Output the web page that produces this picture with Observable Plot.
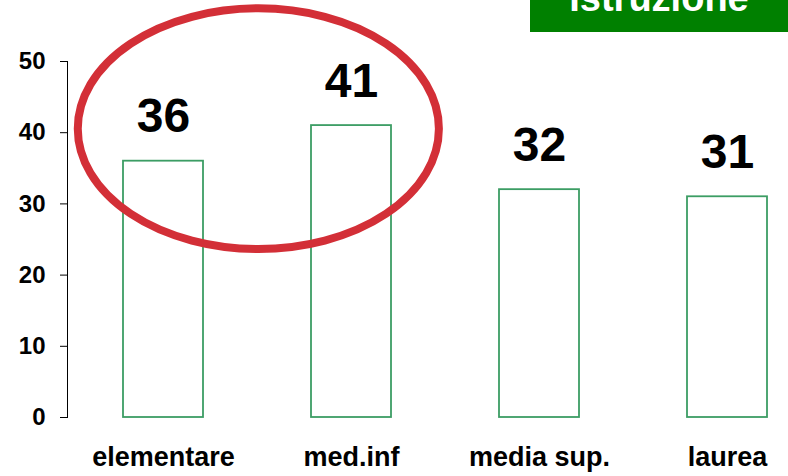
<!DOCTYPE html>
<html>
<head>
<meta charset="utf-8">
<script src="https://cdn.jsdelivr.net/npm/d3@7"></script>
<script src="https://cdn.jsdelivr.net/npm/@observablehq/plot@0.6"></script>
<style>
  html, body { margin: 0; padding: 0; background: #fff; }
  #wrap { position: relative; width: 788px; height: 476px; overflow: hidden; font-family: "Liberation Sans", Arial, sans-serif; }
  #badge { position: absolute; left: 530px; top: 0; width: 258px; height: 32px; background: #008000; overflow: hidden; }
  #badge span { position: absolute; left: 0; right: 0; bottom: 15px; text-align: center; line-height: 1; font-size: 38px; font-weight: bold; color: #fff; }
  g[aria-label^="y-axis"] text { font-size: 24px; font-weight: bold; fill: #000; }
  g[aria-label^="x-axis"] text { font-size: 27px; font-weight: bold; fill: #000; }
</style>
</head>
<body>
<div id="wrap">
  <div id="chart"></div>
  <div id="badge"><span>Istruzione</span></div>
</div>
<script>
const categories = ["elementare", "med.inf", "media sup.", "laurea"];
const values = [36, 41, 32, 31];
const yTicks = [0, 10, 20, 30, 40, 50];

const data = categories.map((c, i) => ({cat: c, value: values[i]}));

const xRange = [122, 768];
const xPadInner = 0.576;

const plot = Plot.plot({
  width: 788,
  height: 476,
  marginLeft: 67,
  marginTop: 61,
  marginBottom: 59,
  marginRight: 20,
  style: {fontFamily: "'Liberation Sans', Arial, sans-serif", fontWeight: "bold", color: "#000", background: "#fff", overflow: "visible"},
  x: {domain: categories, range: xRange, paddingInner: xPadInner, paddingOuter: 0, label: null, tickSize: 0, tickPadding: 29},
  y: {domain: [0, 50], ticks: yTicks, tickSize: 7, tickPadding: 15, line: true, label: null},
  marks: [
    Plot.barY(data, {x: "cat", y: "value", fill: "#fff", stroke: "#3c9d64", strokeWidth: 1.8}),
    Plot.text(data, {x: "cat", y: "value", text: d => String(d.value), dy: -29, lineAnchor: "bottom", fontSize: 48, fontWeight: "bold", fill: "#000"})
  ]
});
document.getElementById("chart").appendChild(plot);

// Highlight ellipse around the first two categories (decoration)
const xs = d3.scaleBand(categories, xRange).paddingInner(xPadInner).paddingOuter(0);
const ys = d3.scaleLinear([0, 50], [476 - 59, 61]);
const c0 = xs(categories[0]) + xs.bandwidth() / 2;
const c1 = xs(categories[1]) + xs.bandwidth() / 2;
const cx = (c0 + c1) / 2 + 2;
const cy = ys(40.5);
const rx = xs.step() * 0.957;
const ry = ys(0) - ys(16.9);
const svg = plot.tagName.toLowerCase() === "svg" ? plot : plot.querySelector("svg");
d3.select(svg).append("ellipse")
  .attr("cx", cx).attr("cy", cy).attr("rx", rx).attr("ry", ry)
  .attr("fill", "none").attr("stroke", "#d32f37").attr("stroke-width", 8);
</script>
</body>
</html>
